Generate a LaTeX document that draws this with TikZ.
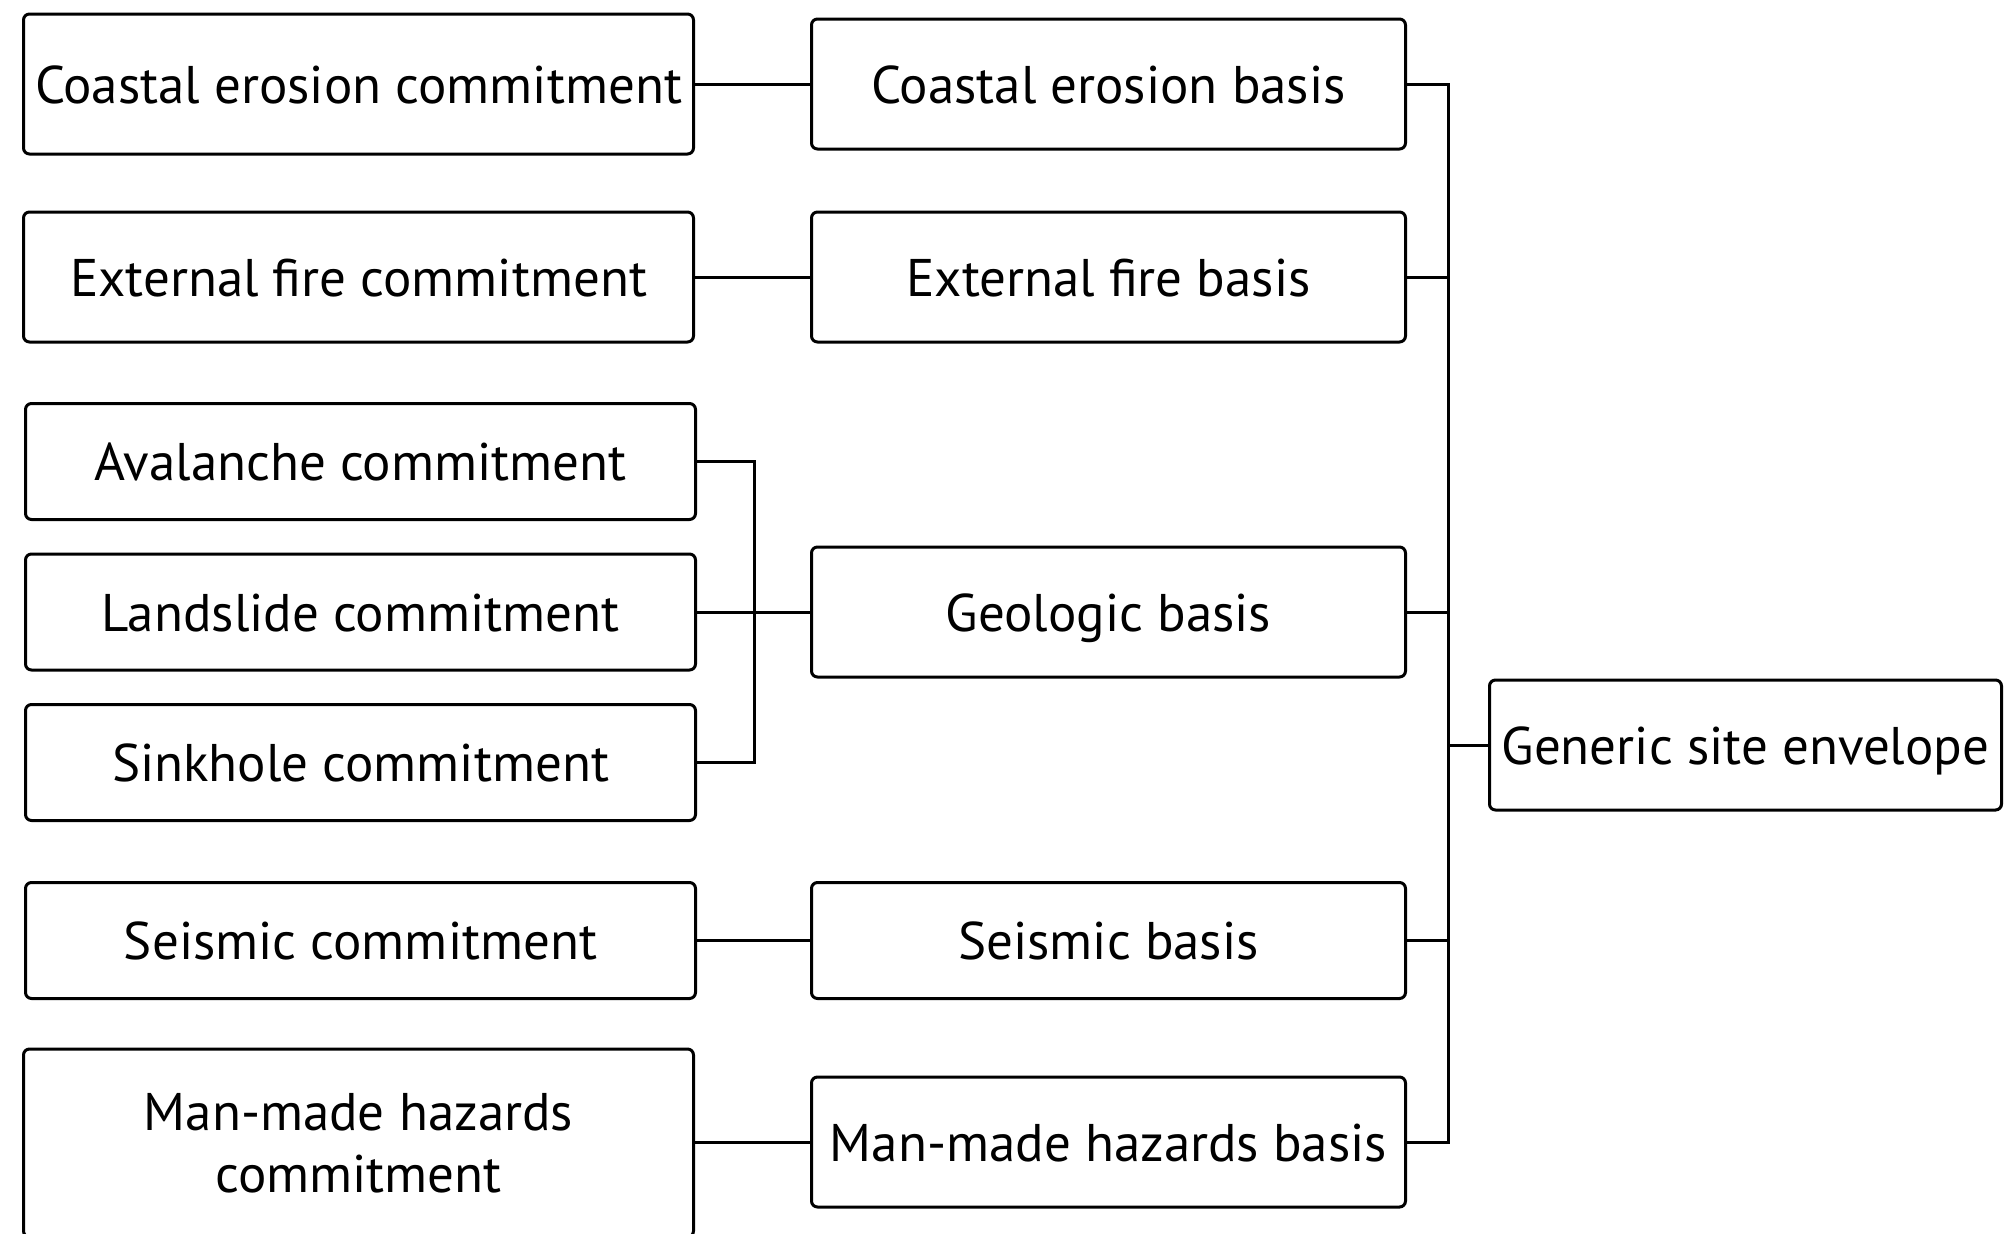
\documentclass[tikz,border=0pt]{standalone}
\usepackage{fontspec}
\setmainfont{PT Sans}
\usetikzlibrary{positioning, calc}

\begin{document}
\begin{tikzpicture}[
		x=0.5pt, y=-0.5pt,
		box/.style={draw, rectangle, rounded corners=3pt, line width=1.5pt, align=center, inner sep=0pt, text height=19pt, text depth=0pt, font=\fontsize{26.5pt}{31pt}\selectfont},
		commit/.style={box, minimum width=335pt},
		basis/.style={box, minimum width=297pt, minimum height=65pt},
		link/.style={line width=1.5pt}
		]
		
		\useasboundingbox (0,0) rectangle (2013,1233);
		\clip (0,0) rectangle (2013,1233);
		
		% 1. Commitments
		\node[commit, minimum height=70pt] (cec) at (358.5,84) {Coastal erosion commitment};
		\node[commit, minimum height=65pt] (efc) at (358.5,277) {External fire commitment};
		\node[commit, minimum height=58pt] (avc) at (360.5,461.5) {Avalanche commitment};
		\node[commit, minimum height=58pt] (lsc) at (360.5,612) {Landslide commitment};
		\node[commit, minimum height=58pt] (skc) at (360.5,762.5) {Sinkhole commitment};
		\node[commit, minimum height=58pt] (sec) at (360.5,940.5) {Seismic commitment};
		\node[commit, minimum height=94pt, text height=, text depth=] (mmc) at (358.5,1143) {Man-made hazards\\commitment};
		
		% 2. Bases
		\node[basis] (ceb) at (1108.5,84) {Coastal erosion basis};
		\node[basis] (efb) at (1108.5,277) {External fire basis};
		\node[basis] (geb) at (1108.5,612) {Geologic basis};
		\node[basis, minimum height=58pt] (seb) at (1108.5,940.5) {Seismic basis};
		\node[basis] (mmb) at (1108.5,1142) {Man-made hazards basis};
		
		% 3. Envelope
		\node[box, minimum width=256pt, minimum height=65pt] (env) at (1745.5,745) {Generic site envelope};
		
		% Bus coordinates
		\coordinate (geox) at (754,0);
		\coordinate (busx) at (1448,0);
		
		% Commitments to bases
		\draw[link] (cec) -- (ceb);
		\draw[link] (efc) -- (efb);
		\draw[link] (avc.east) -- (avc.east -| geox) -- (skc.east -| geox) -- (skc.east);
		\draw[link] (lsc.east) -- (geb.west);
		\draw[link] (sec) -- (seb);
		\draw[link] (mmc.east |- mmb.west) -- (mmb.west);
		
		% Bases to envelope
		\draw[link] (ceb.east) -- (ceb.east -| busx) -- (mmb.east -| busx) -- (mmb.east);
		\foreach \n in {efb, geb, seb}
			\draw[link] (\n.east) -- (\n.east -| busx);
		\draw[link] (env.west) -- (env.west -| busx);
		
	\end{tikzpicture}
\end{document}
